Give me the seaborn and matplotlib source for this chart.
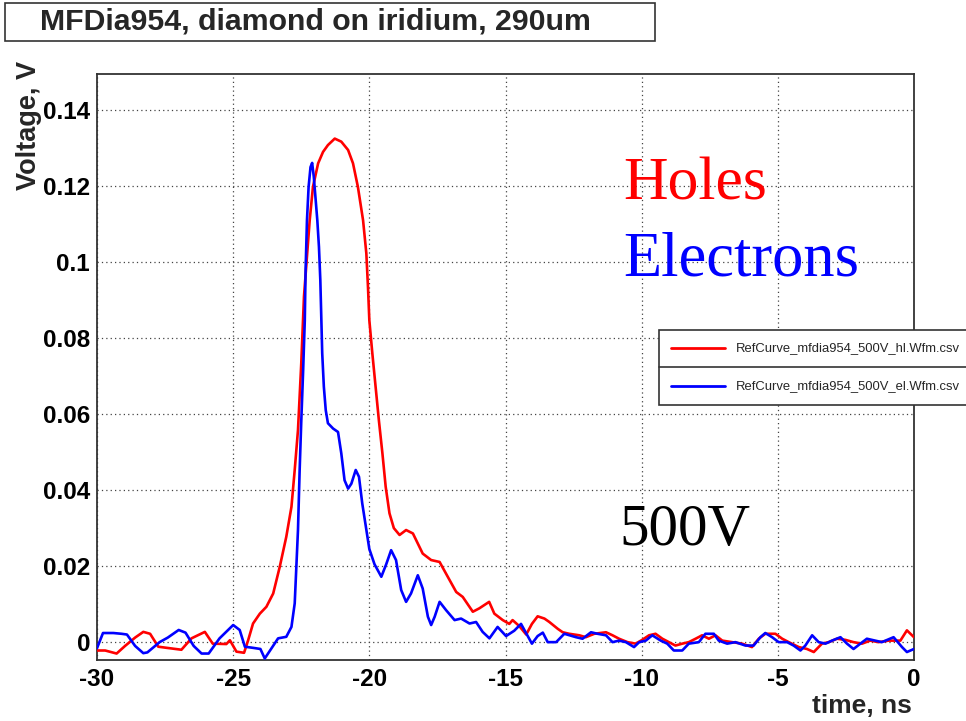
import numpy as np
import pandas as pd
import matplotlib
matplotlib.use("Agg")
import matplotlib.pyplot as plt
import seaborn as sns
from matplotlib.ticker import FixedLocator, FixedFormatter, MultipleLocator
from matplotlib.patches import Rectangle
from matplotlib.lines import Line2D

# ---- waveform data (time in ns, voltage in V) ----
holes_t = [-30.0, -29.7, -29.28, -28.97, -28.6, -28.3, -28.05, -27.75, -27.44, -26.9,
           -26.53, -26.04, -25.75, -25.25, -25.12, -24.88, -24.6, -24.45, -24.27, -24.02,
           -23.78, -23.53, -23.29, -23.05, -22.86, -22.74, -22.62, -22.5, -22.4, -22.31,
           -22.19, -22.07, -21.88, -21.7, -21.52, -21.27, -21.03, -20.78, -20.6, -20.42,
           -20.23, -20.11, -20.05, -20.0, -19.89, -19.77, -19.65, -19.52, -19.4, -19.26,
           -19.1, -18.89, -18.65, -18.4, -18.04, -17.73, -17.42, -17.12, -16.81, -16.57,
           -16.2, -15.96, -15.6, -15.41, -15.1, -14.86, -14.74, -14.49, -14.24, -14.03,
           -13.82, -13.57, -13.39, -13.08, -12.9, -12.66, -12.29, -12.05, -11.74, -11.31,
           -11.07, -10.83, -10.52, -10.22, -9.98, -9.73, -9.49, -9.24, -9.0, -8.76,
           -8.51, -8.27, -8.02, -7.78, -7.53, -7.29, -7.04, -6.68, -6.31, -5.95,
           -5.7, -5.46, -5.09, -4.84, -4.6, -4.23, -3.93, -3.68, -3.38, -3.13,
           -2.83, -2.52, -2.22, -1.91, -1.61, -1.3, -0.93, -0.5, -0.26, -0.13, 0.0]
holes_v = [-0.0022, -0.0022, -0.0030, -0.0010, 0.0012, 0.0027, 0.0022, -0.0012, -0.0015, -0.0020,
           0.0010, 0.0027, -0.0004, -0.0005, 0.0005, -0.0025, -0.0028, 0.0005, 0.0049, 0.0075,
           0.0093, 0.0128, 0.0198, 0.0277, 0.0356, 0.0453, 0.0558, 0.0733, 0.0909, 0.0996,
           0.1110, 0.1198, 0.1260, 0.1290, 0.1308, 0.1325, 0.1317, 0.1295, 0.1260, 0.1198,
           0.1110, 0.1023, 0.0935, 0.0847, 0.0760, 0.0672, 0.0584, 0.0497, 0.0409, 0.0339,
           0.0300, 0.0282, 0.0295, 0.0286, 0.0233, 0.0216, 0.0211, 0.0172, 0.0132, 0.0119,
           0.0080, 0.0089, 0.0106, 0.0075, 0.0058, 0.0048, 0.0058, 0.0042, 0.0020, 0.0048,
           0.0068, 0.0062, 0.0053, 0.0035, 0.0026, 0.0022, 0.0018, 0.0013, 0.0022, 0.0026,
           0.0018, 0.0009, 0.0000, -0.0004, 0.0006, 0.0018, 0.0022, 0.0009, 0.0000, -0.0009,
           -0.0004, 0.0000, 0.0009, 0.0018, 0.0009, 0.0018, 0.0004, 0.0000, -0.0004, -0.0013,
           0.0009, 0.0022, 0.0022, 0.0009, 0.0000, -0.0013, -0.0018, -0.0026, -0.0004, 0.0000,
           0.0009, 0.0006, 0.0000, -0.0004, 0.0004, 0.0000, 0.0004, 0.0004, 0.0031, 0.0022, 0.0013]

electrons_t = [-30.0, -29.78, -29.4, -29.1, -28.9, -28.6, -28.3, -28.15, -27.7, -27.4,
               -27.0, -26.75, -26.45, -26.16, -25.9, -25.5, -25.0, -24.76, -24.57, -24.27,
               -24.0, -23.84, -23.6, -23.35, -23.05, -22.86, -22.74, -22.62, -22.56, -22.5,
               -22.43, -22.37, -22.34, -22.29, -22.23, -22.16, -22.1, -22.04, -21.98, -21.91,
               -21.85, -21.8, -21.76, -21.73, -21.67, -21.6, -21.52, -21.33, -21.15, -21.03,
               -20.91, -20.78, -20.66, -20.5, -20.38, -20.26, -20.11, -20.0, -19.81, -19.56,
               -19.38, -19.2, -19.02, -18.83, -18.65, -18.47, -18.22, -18.04, -17.85, -17.73,
               -17.6, -17.42, -17.18, -16.87, -16.63, -16.32, -16.08, -15.84, -15.59, -15.29,
               -14.98, -14.68, -14.43, -14.2, -14.03, -13.82, -13.63, -13.45, -13.14, -12.84,
               -12.41, -12.17, -11.86, -11.62, -11.31, -11.07, -10.83, -10.58, -10.28, -10.09,
               -9.85, -9.61, -9.3, -9.06, -8.82, -8.51, -8.27, -7.9, -7.66, -7.35,
               -7.17, -6.86, -6.56, -6.19, -5.89, -5.64, -5.46, -5.21, -4.97, -4.66,
               -4.42, -4.17, -3.99, -3.74, -3.5, -3.25, -3.01, -2.7, -2.46, -2.22,
               -1.97, -1.73, -1.42, -1.18, -0.75, -0.44, -0.26, 0.0]
electrons_v = [-0.0016, 0.0024, 0.0024, 0.0022, 0.0020, -0.0010, -0.0029, -0.0027, 0.0000, 0.0012,
               0.0032, 0.0025, -0.0010, -0.0030, -0.0030, 0.0010, 0.0045, 0.0032, -0.0012, -0.0015,
               -0.0018, -0.0043, -0.0017, 0.0010, 0.0014, 0.0040, 0.0102, 0.0295, 0.0450, 0.0580,
               0.0716, 0.0847, 0.0980, 0.1110, 0.1198, 0.1250, 0.1261, 0.1225, 0.1172, 0.1110,
               0.1040, 0.0953, 0.0847, 0.0760, 0.0672, 0.0610, 0.0576, 0.0562, 0.0553, 0.0497,
               0.0426, 0.0404, 0.0417, 0.0453, 0.0435, 0.0365, 0.0295, 0.0245, 0.0205, 0.0172,
               0.0205, 0.0242, 0.0216, 0.0137, 0.0106, 0.0128, 0.0176, 0.0141, 0.0067, 0.0045,
               0.0067, 0.0106, 0.0084, 0.0058, 0.0062, 0.0049, 0.0053, 0.0027, 0.0010, 0.0040,
               0.0016, 0.0030, 0.0048, 0.0018, -0.0004, 0.0016, 0.0025, 0.0000, 0.0000, 0.0022,
               0.0013, 0.0009, 0.0026, 0.0022, 0.0018, 0.0000, 0.0004, 0.0000, -0.0013, 0.0000,
               0.0004, 0.0018, 0.0004, -0.0004, -0.0022, -0.0022, -0.0004, 0.0000, 0.0022, 0.0022,
               0.0004, -0.0004, 0.0000, -0.0009, -0.0009, 0.0013, 0.0024, 0.0013, 0.0000, 0.0000,
               -0.0009, -0.0022, -0.0009, 0.0018, 0.0000, -0.0004, 0.0004, 0.0013, -0.0004, -0.0018,
               -0.0004, 0.0009, 0.0004, 0.0000, 0.0013, -0.0013, -0.0026, -0.0018]

x_ticks = [-30, -25, -20, -15, -10, -5, 0]
x_tick_labels = ["-30", "-25", "-20", "-15", "-10", "-5", "0"]
y_ticks = [0.0, 0.02, 0.04, 0.06, 0.08, 0.10, 0.12, 0.14]
y_tick_labels = ["0", "0.02", "0.04", "0.06", "0.08", "0.1", "0.12", "0.14"]

title_text = "MFDia954, diamond on iridium, 290um"
legend_labels = ["RefCurve_mfdia954_500V_hl.Wfm.csv", "RefCurve_mfdia954_500V_el.Wfm.csv"]

RED = "#ff0000"
BLUE = "#0000ff"
FRAME = "#333333"

sns.set_style("white")
plt.rcParams["font.family"] = ["Liberation Sans", "DejaVu Sans"]

W, H = 966, 721
fig = plt.figure(figsize=(W / 100, H / 100), dpi=100)


def fx(px):
    return px / W


def fy(py):
    return 1 - py / H


ax = fig.add_axes([fx(97), fy(660), fx(914) - fx(97), fy(74) - fy(660)])

holes = pd.DataFrame({"t": holes_t, "v": holes_v})
electrons = pd.DataFrame({"t": electrons_t, "v": electrons_v})

sns.lineplot(data=holes, x="t", y="v", ax=ax, color=RED, lw=1.9,
             sort=False, estimator=None, legend=False, zorder=3)
sns.lineplot(data=electrons, x="t", y="v", ax=ax, color=BLUE, lw=1.9,
             sort=False, estimator=None, legend=False, zorder=3)

ax.set_xlim(-30, 0)
ax.set_ylim(-0.0047, 0.1495)
ax.set_xlabel("")
ax.set_ylabel("")

ax.xaxis.set_major_locator(FixedLocator(x_ticks))
ax.xaxis.set_major_formatter(FixedFormatter(x_tick_labels))
ax.xaxis.set_minor_locator(MultipleLocator(1))
ax.yaxis.set_major_locator(FixedLocator(y_ticks))
ax.yaxis.set_major_formatter(FixedFormatter(y_tick_labels))
ax.yaxis.set_minor_locator(MultipleLocator(0.005))

ax.grid(True, which="major", linestyle=(0, (1, 2.5)), color="#444444", lw=0.9, zorder=1)
ax.set_axisbelow(True)

ax.tick_params(which="both", direction="in", top=False, right=False,
               color=FRAME, width=1.2, labelcolor="black")
ax.tick_params(axis="y", which="major", length=16, pad=5, labelsize=17.5)
ax.tick_params(axis="y", which="minor", length=8.5)
ax.tick_params(axis="x", which="major", length=12, pad=6, labelsize=17.5)
ax.tick_params(axis="x", which="minor", length=6.5)
for lbl in ax.get_xticklabels() + ax.get_yticklabels():
    lbl.set_fontweight("bold")

for sp in ax.spines.values():
    sp.set_color(FRAME)
    sp.set_linewidth(1.3)

# axis titles
fig.text(fx(912), fy(713), "time, ns", ha="right", va="baseline",
         fontsize=19, fontweight="bold")
fig.text(fx(29), fy(61), "Voltage, V", ha="center", va="top", rotation=90,
         fontsize=19.5, fontweight="bold")

# title box
fig.patches.append(Rectangle((fx(5), fy(41)), fx(655) - fx(5), fy(3) - fy(41),
                             transform=fig.transFigure, facecolor="white",
                             edgecolor=FRAME, lw=1.2, zorder=5))
fig.text(fx(40), fy(22), title_text, ha="left", va="center",
         fontsize=21.8, fontweight="bold", zorder=6)

# annotations
serif = ["Liberation Serif", "DejaVu Serif"]
fig.text(fx(623), fy(200), "Holes", color=RED, family=serif,
         fontsize=44.5, ha="left", va="baseline", zorder=6)
fig.text(fx(623), fy(275), "Electrons", color=BLUE, family=serif,
         fontsize=45, ha="left", va="baseline", zorder=6)
fig.text(fx(619), fy(545), "500V", color="black", family=serif,
         fontsize=42.5, ha="left", va="baseline", zorder=6)

# legend box
fig.patches.append(Rectangle((fx(659), fy(405)), fx(990) - fx(659), fy(330) - fy(405),
                             transform=fig.transFigure, facecolor="white",
                             edgecolor=FRAME, lw=1.2, zorder=5))
fig.lines.append(Line2D([fx(659), fx(990)], [fy(367), fy(367)],
                        transform=fig.transFigure, color=FRAME, lw=1.2, zorder=6))
for yy, col, lab in [(348, RED, legend_labels[0]), (386, BLUE, legend_labels[1])]:
    fig.lines.append(Line2D([fx(671), fx(725)], [fy(yy), fy(yy)],
                            transform=fig.transFigure, color=col, lw=2.0, zorder=6))
    fig.text(fx(736), fy(yy), lab, ha="left", va="center", fontsize=9.4,
             fontweight="normal", zorder=7)

fig.savefig("out.png", dpi=100, facecolor="white")
